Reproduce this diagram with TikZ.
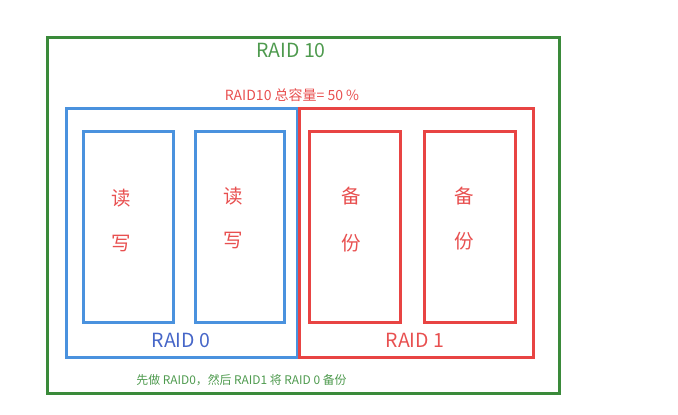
\documentclass[tikz,border=0pt]{standalone}
\usepackage{fontspec}
\setmainfont{Noto Sans CJK SC}
\definecolor{gborder}{HTML}{3A8A3A}
\definecolor{gtext}{HTML}{4E9A4E}
\definecolor{bborder}{HTML}{4A92DE}
\definecolor{btext}{HTML}{4666C8}
\definecolor{rborder}{HTML}{E84443}
\definecolor{rtext}{HTML}{E85050}
\tikzset{
  box/.style={draw, line width=3pt, minimum width=#1, inner sep=0pt, fill=none},
  lbl/.style={inner sep=0pt, anchor=center},
  big/.style={font=\fontsize{19.5}{22}\selectfont},
  chr/.style={lbl, text=rtext, font=\fontsize{19.5}{22}\selectfont},
}
\begin{document}
\begin{tikzpicture}[x=1pt,y=-1pt]
\useasboundingbox (0,0) rectangle (678,415);
% outer
\node[box=512pt, draw=gborder, minimum height=356pt] (outer) at (303,215) {};
\node[box=231pt, draw=bborder, minimum height=249pt] (raid0) at (181.5,232.5) {};
\node[box=234pt, draw=rborder, minimum height=249pt] (raid1) at (416,232.5) {};
% inner boxes
\node[box=90pt, draw=bborder, minimum height=191pt] (d1) at (128,227) {};
\node[box=89pt, draw=bborder, minimum height=191pt] (d2) at (239.5,227) {};
\node[box=91pt, draw=rborder, minimum height=191pt] (d3) at (354.5,227) {};
\node[box=91pt, draw=rborder, minimum height=191pt] (d4) at (469.5,227) {};
% texts
\node[lbl, big, text=gtext] (t10) at (291,50) {RAID 10};
\node[lbl, text=rtext, font=\fontsize{14}{16}\selectfont] (cap) at (292,95) {RAID10 总容量= 50 \%};
\node[chr] (d1a) at (121,198) {读};
\node[chr] (d1b) at (121,244) {写};
\node[chr] (d2a) at (233,196) {读};
\node[chr] (d2b) at (233,241) {写};
\node[chr] (d3a) at (351,196) {备};
\node[chr] (d3b) at (351,243) {份};
\node[chr] (d4a) at (464,196) {备};
\node[chr] (d4b) at (464,241) {份};
\node[lbl, big, text=btext] (l0) at (181,340) {RAID 0};
\node[lbl, big, text=rtext] (l1) at (415,340) {RAID 1};
\node[lbl, text=gtext, font=\fontsize{11.9}{14}\selectfont] (note) at (241.5,380) {先做 RAID0，然后 RAID1 将 RAID 0 备份};
\end{tikzpicture}
\end{document}
